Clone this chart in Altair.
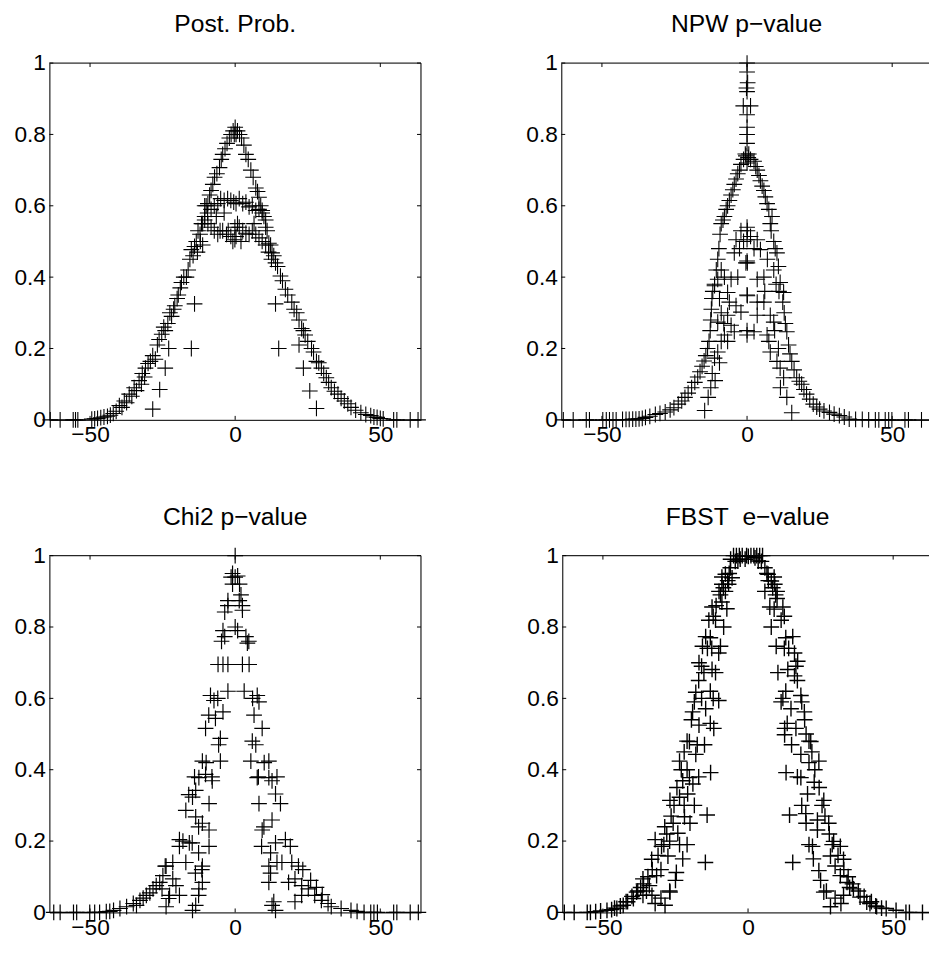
import altair as alt
import pandas as pd

FONT = "Liberation Sans"
TITLES = ["Post. Prob.", "NPW p\u2212value", "Chi2 p\u2212value", "FBST\u00a0 e\u2212value"]
X_TICKS = [-50, 0, 50]
Y_TICKS = [0, 0.2, 0.4, 0.6, 0.8, 1]

# ---------------- data (x, value) ----------------
POST_PROB = [
    (-63.7, 0), (-60.3, 0), (-55.8, 0), (-55, 0), (-54.2, 0), (-49.4, 0.002), (-48.4, 0.003), (-47.4, 0.004),
    (-46.3, 0.006), (-45.2, 0.008), (-44, 0.01), (-43, 0.013), (-42, 0.018), (-41, 0.024),
    (-39.9, 0.04), (-39, 0.035), (-38.2, 0.053), (-37.4, 0.048), (-36.5, 0.072), (-35.6, 0.066), (-34.8, 0.09),
    (-34, 0.082), (-33.1, 0.11), (-32.3, 0.1), (-32, 0.13), (-31.2, 0.12), (-30.9, 0.145), (-30, 0.158),
    (-29.2, 0.164), (-28.4, 0.18), (-27.5, 0.17), (-26.8, 0.21), (-26.2, 0.225), (-25.3, 0.24), (-24.6, 0.26),
    (-24.1, 0.25), (-23.2, 0.27), (-22.5, 0.3), (-21.9, 0.29), (-21.2, 0.31), (-20.8, 0.32), (-20, 0.34),
    (-19.6, 0.35), (-18.9, 0.37), (-18.5, 0.385), (-17.7, 0.4), (-16.8, 0.40), (-16.2, 0.42), (-15.6, 0.45),
    (-15.1, 0.477), (-14.5, 0.46), (-14, 0.486), (-13.4, 0.5), (-12.8, 0.53), (-12.1, 0.52), (-11.6, 0.55),
    (-10.5, 0.57), (-10, 0.6), (-9.4, 0.606), (-8.8, 0.63), (-8.3, 0.643), (-7.7, 0.66), (-7.1, 0.68),
    (-6.3, 0.69), (-5.4, 0.707), (-4.8, 0.73), (-4.3, 0.744), (-3.5, 0.76), (-2.8, 0.775), (-2, 0.79),
    (-1.4, 0.80), (-0.7, 0.81), (-0.3, 0.8), (0, 0.82),
    (-10.5, 0.6), (-9.5, 0.58), (-8.3, 0.59), (-7.2, 0.6), (-6, 0.606), (-5, 0.62), (-3.8, 0.615), (-2.6, 0.62),
    (-1.5, 0.615), (-0.5, 0.61), (-3.8, 0.58), (-6.5, 0.57), (-11.2, 0.55), (-10.5, 0.56), (-9.4, 0.55),
    (-8.3, 0.54), (-7.2, 0.53), (-6, 0.52), (-5.2, 0.53), (-4.3, 0.53), (-3, 0.52), (-2.4, 0.53), (-1.5, 0.514),
    (-0.8, 0.5), (-0.1, 0.54), (-0.1, 0.505), (-12, 0.5), (-13, 0.47), (-11.2, 0.49),
    (-14, 0.325), (-15.1, 0.2), (-22.9, 0.2), (-24.1, 0.145), (-26, 0.085), (-28.4, 0.03),
    (0.3, 0.8), (0.8, 0.81), (1.5, 0.80), (2.2, 0.79), (3, 0.77), (3.7, 0.744), (4.5, 0.73), (5.4, 0.70),
    (6.2, 0.68), (7.1, 0.65), (7.7, 0.64), (8.2, 0.624), (8.8, 0.60), (9.3, 0.587), (9.9, 0.57), (10.5, 0.54),
    (11, 0.53), (11.6, 0.495), (12.2, 0.49), (12.7, 0.468), (13.3, 0.46), (13.9, 0.44), (14.6, 0.43),
    (15.6, 0.403), (16.3, 0.39), (17.3, 0.366), (18.1, 0.35), (19.5, 0.33), (20.3, 0.31), (21.2, 0.30),
    (22, 0.28), (22.9, 0.256), (23.5, 0.25), (24.1, 0.238), (25, 0.22), (26.3, 0.20), (27, 0.19), (28, 0.164),
    (28.8, 0.16), (29.7, 0.145), (30.5, 0.13), (31.4, 0.118), (32.2, 0.105), (33.1, 0.09), (34.2, 0.08),
    (35.4, 0.072), (36.5, 0.06), (37.6, 0.053), (38.8, 0.045), (39.9, 0.035), (41.5, 0.027), (43.3, 0.02),
    (45, 0.015), (46.7, 0.012), (47.8, 0.008), (48.9, 0.007), (50, 0.004), (51, 0.003),
    (54.6, 0), (55.7, 0), (60.3, 0), (63, 0),
    (0.3, 0.606), (1.4, 0.62), (2.6, 0.606), (3.7, 0.61), (4.8, 0.597), (5.9, 0.6), (7.1, 0.587), (8.2, 0.59),
    (9.3, 0.58), (10.5, 0.56), (1.4, 0.54), (2.6, 0.53), (3.7, 0.523), (4.8, 0.52), (5.9, 0.53), (7.1, 0.52),
    (8.2, 0.51), (9.3, 0.5), (10.5, 0.49), (0.3, 0.514), (0.8, 0.55), (2, 0.5), (6.5, 0.55), (11.5, 0.47),
    (12.5, 0.45),
    (13.9, 0.325), (15, 0.2), (22, 0.21), (23.5, 0.145), (25.7, 0.081), (28, 0.032),
]

NPW = [
    (-63.3, 0), (-59.9, 0), (-55.4, 0), (-54.3, 0), (-49.7, 0), (-48.5, 0), (-47.4, 0), (-46.2, 0), (-45.1, 0),
    (-42.9, 0.001), (-41.7, 0.001), (-40.6, 0.001), (-39.4, 0.002), (-38.3, 0.002), (-37.2, 0.003), (-36.1, 0.004),
    (-35, 0.007), (-33.5, 0.01), (-31.6, 0.015), (-30, 0.018), (-28.2, 0.022), (-26.5, 0.028), (-25.2, 0.034),
    (-23.7, 0.044), (-22.5, 0.053), (-21.4, 0.063), (-20.3, 0.075), (-19.1, 0.09), (-18, 0.105), (-17, 0.12),
    (-16.2, 0.135), (-15.5, 0.15), (-14.8, 0.165), (-14.2, 0.18), (-13.6, 0.2), (-13.1, 0.22), (-12.7, 0.25),
    (-12.5, 0.28), (-12.3, 0.31), (-12.1, 0.34), (-11.8, 0.36), (-11.2, 0.38), (-10.6, 0.42), (-10.1, 0.45),
    (-9.7, 0.48), (-9.3, 0.52), (-8.9, 0.55), (-8.3, 0.56), (-7.8, 0.57), (-7.2, 0.59), (-6.7, 0.6),
    (-6.1, 0.615), (-5.5, 0.63), (-4.9, 0.645), (-4.4, 0.66), (-3.8, 0.675), (-3.2, 0.69), (-2.6, 0.70),
    (-2.1, 0.716), (-1.2, 0.73), (-0.4, 0.74),
    (-3.8, 0.505), (-2.1, 0.53), (-4.4, 0.468), (-0.4, 0.44), (-3.2, 0.40), (-5.5, 0.394), (-6.7, 0.357),
    (-3.8, 0.32), (-2.1, 0.302), (-6.7, 0.293), (-5.5, 0.265), (-4.4, 0.247), (-7.8, 0.238), (-8.9, 0.22),
    (-10.1, 0.19), (-6.7, 0.22), (-11.2, 0.173), (-8.9, 0.30), (-10.1, 0.274), (-7.8, 0.40), (-8.9, 0.42),
    (-10.1, 0.394), (-11.2, 0.376), (-12, 0.13), (-11, 0.11), (-12.5, 0.09), (-13.4, 0.063), (-14.6, 0.026),
    (-9.5, 0.16), (-8, 0.27), (-1.2, 0.5), (-2.6, 0.48), (-6.1, 0.33), (-9.5, 0.34),
    (0, 1.0), (0, 0.975), (0.2, 0.945), (-0.2, 0.93), (0, 0.92), (-1.3, 0.88), (1.2, 0.88), (0, 0.855),
    (0, 0.82), (0, 0.80), (0, 0.775), (-0.6, 0.745), (0.6, 0.745), (0, 0.72), (0, 0.54), (0, 0.505),
    (0, 0.445), (0, 0.35), (0, 0.25), (0, 0.238),
    (0.4, 0.735), (1.2, 0.73), (2.4, 0.725), (3, 0.71), (3.5, 0.70), (4.1, 0.685), (4.6, 0.67), (5.2, 0.655),
    (5.8, 0.643), (6.3, 0.625), (6.9, 0.606), (7.5, 0.59), (8.6, 0.57), (8, 0.55), (8.3, 0.53), (9.2, 0.5),
    (9.7, 0.48), (10.3, 0.468), (10.8, 0.43), (11.4, 0.385), (12.6, 0.357), (12.3, 0.33), (12.8, 0.3),
    (13.2, 0.27), (13.7, 0.247), (14.3, 0.21), (14.8, 0.185), (15.4, 0.164), (16.2, 0.14), (17.1, 0.118),
    (18, 0.108), (18.8, 0.1), (19.6, 0.085), (20.5, 0.072), (21.6, 0.058), (22.8, 0.044), (24, 0.036),
    (25, 0.03), (26.5, 0.025), (28.4, 0.021), (30, 0.016), (31.8, 0.012), (33.5, 0.008),
    (0.1, 0.53), (1.2, 0.514), (3.5, 0.505), (4.6, 0.477), (0.1, 0.44), (3.5, 0.394), (5.8, 0.40), (9.2, 0.42),
    (0.1, 0.348), (3.5, 0.33), (5.8, 0.33), (3.5, 0.293), (8, 0.293), (9.2, 0.274), (6.9, 0.238), (2.4, 0.247),
    (7.5, 0.22), (8, 0.19), (10.3, 0.164), (11.4, 0.145), (12.6, 0.118), (13.7, 0.063), (15.4, 0.02),
    (11, 0.36), (10, 0.38), (7, 0.45), (2.4, 0.48), (6.1, 0.36), (11.5, 0.09), (9.5, 0.25), (10.8, 0.2),
    (35.2, 0.002), (37.4, 0.001), (39.7, 0.001), (41.9, 0), (44.2, 0), (45.4, 0), (47.6, 0), (48.8, 0),
    (49.9, 0), (54.4, 0), (55.6, 0), (60.1, 0),
]

CHI2 = [
    (-62.5, 0), (-60.3, 0), (-55.7, 0), (-54.6, 0), (-50.1, 0), (-48.4, 0), (-46.7, 0), (-44.4, 0.002),
    (-43.2, 0.003), (-41.9, 0.006), (-39.7, 0.011), (-37.4, 0.016), (-35.1, 0.025), (-34, 0.02), (-32.8, 0.034),
    (-31.7, 0.04), (-30.6, 0.048), (-29.4, 0.055), (-28.3, 0.066), (-27.2, 0.075), (-26, 0.084), (-24.9, 0.103),
    (-23.8, 0.13), (-22.6, 0.048), (-23.8, 0.016), (-21.5, 0.094), (-20.4, 0.075), (-19.2, 0.048), (-21.5, 0.14),
    (-19.2, 0.204), (-19.2, 0.185), (-17, 0.14), (-17, 0.286), (-15.8, 0.195), (-14.7, 0.323), (-13.6, 0.342),
    (-13.6, 0.268), (-12.5, 0.378), (-11.3, 0.424), (-11.3, 0.25), (-11.3, 0.13), (-11.3, 0.084), (-12.5, 0.066),
    (-13.6, 0.02), (-14.7, 0.006), (-10.2, 0.387), (-10.2, 0.516), (-9, 0.305), (-9, 0.231), (-9, 0.185),
    (-7.9, 0.369), (-9.1, 0.553), (-8.5, 0.608), (-7.3, 0.594), (-6.8, 0.544), (-5.7, 0.47), (-5.1, 0.488),
    (-5.1, 0.424), (-4.2, 0.562), (-5.9, 0.695), (-4.2, 0.695), (-2.5, 0.62), (-4.2, 0.79), (-3.6, 0.773),
    (-3.6, 0.842), (-2.5, 0.874), (-1.4, 0.94), (-0.9, 0.95), (-18, 0.2), (-16, 0.33), (-14, 0.38), (-12.6, 0.24),
    (-12.6, 0.167), (-14.8, 0.195), (-24.1, 0.13), (-25.2, 0.066), (-22.9, 0.039), (-12.6, 0.048), (-13.7, 0.11),
    (-11.5, 0.12), (-10, 0.42), (-8, 0.38), (-6, 0.6), (-2.5, 0.695), (-4.7, 0.76), (-2.5, 0.86), (-0.9, 0.92),
    (0, 1.0), (0, 0.80), (0, 0.94),
    (0.85, 0.943), (1.4, 0.874), (2.5, 0.847), (0.85, 0.79), (3.7, 0.773), (4.2, 0.755), (2.5, 0.695),
    (4.8, 0.695), (3.1, 0.62), (7.6, 0.608), (8.2, 0.59), (6.5, 0.553), (9.3, 0.516), (5.9, 0.48), (7.1, 0.47),
    (5.4, 0.424), (11.6, 0.424), (7.6, 0.378), (11.6, 0.378), (12.7, 0.369), (13.9, 0.332), (15.6, 0.305),
    (8.2, 0.305), (12.7, 0.259), (9.9, 0.24), (9.3, 0.231), (13.9, 0.195), (17.3, 0.204), (19, 0.185),
    (11.6, 0.13), (16.1, 0.14), (19.5, 0.14), (21.8, 0.13), (11.6, 0.084), (12.7, 0.02), (13.9, 0.006),
    (18.4, 0.084), (20.6, 0.094), (22.9, 0.075), (25.2, 0.066), (27.4, 0.048), (29.7, 0.034), (32, 0.025),
    (22.9, 0.048), (20.6, 0.03), (33.1, 0.016), (36.5, 0.011), (39.9, 0.006), (42, 0.003), (44.4, 0),
    (46.7, 0), (47.8, 0), (49, 0), (54.6, 0), (55.7, 0), (60.3, 0), (63.1, 0), (1.5, 0.92), (2, 0.89),
    (6, 0.6), (12.2, 0.167), (14.4, 0.38), (12.2, 0.11), (14.4, 0.14), (23.3, 0.12), (13.3, 0.03), (9.1, 0.185),
    (10, 0.42), (8, 0.38), (26, 0.09), (28, 0.07), (30, 0.05), (4.7, 0.76), (2.5, 0.86),
]

FBST = [
    (-63.3, 0), (-59.9, 0), (-55.4, 0), (-54.3, 0), (-52.5, 0.002), (-50.8, 0.004), (-48.6, 0.006),
    (-47, 0.008), (-45.2, 0.011), (-43, 0.02), (-41.5, 0.03), (-39.5, 0.039), (-38.4, 0.057), (-36.2, 0.048),
    (-36.2, 0.094), (-34, 0.075), (-33.1, 0.048), (-31.5, 0.103), (-33.2, 0.149), (-32, 0.204), (-29.8, 0.185),
    (-28.7, 0.24), (-27.6, 0.158), (-26.9, 0.057), (-28.6, 0.02), (-26.9, 0.314), (-25.8, 0.25), (-24.7, 0.112),
    (-24.2, 0.222), (-23.6, 0.19), (-23.6, 0.323), (-23.6, 0.424), (-22.5, 0.369), (-21.9, 0.268),
    (-20.8, 0.332), (-20.2, 0.378), (-20.2, 0.479), (-19.1, 0.562), (-18, 0.617), (-18, 0.443), (-17.5, 0.47),
    (-16.9, 0.525), (-16.9, 0.70), (-15.7, 0.746), (-15.2, 0.672), (-14.6, 0.773), (-14.6, 0.571),
    (-14.1, 0.273), (-14.7, 0.14), (-13.5, 0.819), (-12.9, 0.392), (-12.4, 0.856), (-12.4, 0.681),
    (-11.8, 0.516), (-11.2, 0.819), (-11.2, 0.672), (-10.1, 0.727), (-10.1, 0.594), (-9.5, 0.746), (-9, 0.92),
    (-8.4, 0.80), (-7.8, 0.948), (-7.8, 0.90), (-7.3, 0.851), (-6.7, 0.92), (-6.1, 0.966), (-5.5, 0.938),
    (-4.4, 0.984), (-2.7, 0.99), (-1, 0.99), (-30, 0.12), (-35, 0.06), (-37, 0.07), (-27, 0.2), (-22, 0.3),
    (-19, 0.36), (-21, 0.4), (-16, 0.6), (-13, 0.62), (-11, 0.86), (-9, 0.87), (-5, 1), (-4, 1), (-3, 1),
    (-2, 1), (-0.5, 1), (-6, 0.99),
    (-7, 0.93), (-8.5, 0.91), (-10, 0.9), (-9.5, 0.89), (-12, 0.83), (-13, 0.77), (-14, 0.74), (-16, 0.69),
    (-17, 0.65), (-18.5, 0.59), (-19.5, 0.54), (-21, 0.48), (-22, 0.45), (-23, 0.40), (-24.5, 0.35),
    (-25.5, 0.3), (-26.5, 0.27), (-28, 0.22), (-29, 0.19), (-31, 0.16), (-33, 0.12), (-34.5, 0.1), (-36, 0.08),
    (-38, 0.06), (-40, 0.045), (-42, 0.03), (-44, 0.018), (-46, 0.012), (-12.5, 0.74), (-12, 0.6),
    (-13, 0.53), (-15, 0.47), (-17, 0.38), (-18.5, 0.3), (-20, 0.25), (-21, 0.19), (-22.5, 0.15), (-25, 0.09),
    (-27, 0.06), (-30, 0.04), (-32, 0.025), (-3.5, 0.985), (-6.5, 0.95), (-9, 0.94),
    (0.1, 0.998), (1, 1), (2, 1), (2.4, 0.994), (3, 1), (4, 1), (4.6, 0.984), (5, 1), (5.8, 0.966),
    (6.9, 0.948), (8, 0.929), (9.2, 0.92), (5.8, 0.90), (7.5, 0.856), (12, 0.856), (11.4, 0.819), (8, 0.80),
    (15.4, 0.773), (9.7, 0.746), (16, 0.727), (17.1, 0.704), (10.3, 0.672), (13.7, 0.681), (16, 0.663),
    (11.4, 0.59), (18.2, 0.608), (14.8, 0.571), (19.4, 0.562), (12.6, 0.516), (16.5, 0.516), (12.6, 0.498),
    (21.6, 0.479), (18.2, 0.443), (24.4, 0.424), (13.1, 0.392), (18.2, 0.378), (22.8, 0.365), (20.5, 0.332),
    (26.1, 0.314), (14.3, 0.273), (19.9, 0.277), (23.9, 0.259), (27.8, 0.25), (23.9, 0.231), (29.5, 0.199),
    (22.2, 0.185), (31.8, 0.185), (28.4, 0.158), (32.9, 0.149), (15.4, 0.14), (24.4, 0.117), (31.8, 0.103),
    (34.1, 0.084), (36.3, 0.066), (26.1, 0.057), (32.9, 0.048), (38.6, 0.043), (40.9, 0.029), (28.4, 0.016),
    (44.3, 0.016), (47.6, 0.011), (51, 0.006), (54.4, 0), (55.6, 0), (60.1, 0), (10, 0.88), (13, 0.62),
    (21, 0.42), (30, 0.13), (35, 0.07), (42, 0.025), (9, 0.85), (20, 0.5),
    (7, 0.93), (8.5, 0.91), (10, 0.9), (9.5, 0.89), (12.5, 0.83), (13, 0.77), (14, 0.74), (16.5, 0.69),
    (17, 0.65), (18.5, 0.59), (19.5, 0.54), (21, 0.48), (22, 0.45), (23, 0.40), (24.5, 0.35), (25.5, 0.3),
    (26.5, 0.27), (28, 0.22), (29, 0.19), (31, 0.16), (33, 0.12), (34.5, 0.1), (36, 0.08), (38, 0.06),
    (40, 0.045), (42.5, 0.03), (44, 0.018), (46, 0.012), (12.5, 0.74), (12, 0.6), (13.5, 0.53), (15, 0.47),
    (17, 0.38), (18.5, 0.3), (20, 0.25), (21, 0.19), (22.5, 0.15), (25, 0.09), (27, 0.06), (30, 0.04),
    (32, 0.025), (3.5, 0.985), (6.5, 0.95), (9, 0.94),
]

# ---------------- layout ----------------
W_LEFT, W_RIGHT, H = 377, 376, 362
PLUS = "M-1,0H1M0,-1V1"
TICK = 4
INK = "black"


def panel(points, title, width, xmax, right_border, stroke_w):
    xs = alt.Scale(domain=[-64, xmax], nice=False, zero=False)
    ys = alt.Scale(domain=[0, 1], nice=False, zero=False)
    xax = alt.Axis(values=X_TICKS, title=None, grid=False, ticks=False, domain=True,
                   domainColor=INK, domainWidth=1, labelFont=FONT, labelFontSize=23,
                   labelColor=INK, labelPadding=4, labelFlush=False, labelOverlap=False)
    yax = alt.Axis(values=Y_TICKS, title=None, grid=False, ticks=False, domain=True, format="~g",
                   domainColor=INK, domainWidth=1, labelFont=FONT, labelFontSize=23,
                   labelColor=INK, labelPadding=4, labelFlush=False, labelOverlap=False)
    ex = alt.X("x:Q", scale=xs, axis=xax)
    ey = alt.Y("y:Q", scale=ys, axis=yax)

    df = pd.DataFrame(points, columns=["x", "y"])
    xt = pd.DataFrame({"x": X_TICKS})
    yt = pd.DataFrame({"y": Y_TICKS})
    one = pd.DataFrame({"y": [1]})

    rule = dict(color=INK, strokeWidth=1)
    layers = [
        alt.Chart(xt).mark_rule(**rule).encode(x=ex, y=alt.value(H), y2=alt.value(H - TICK)),
        alt.Chart(xt).mark_rule(**rule).encode(x=ex, y=alt.value(0), y2=alt.value(TICK)),
        alt.Chart(yt).mark_rule(**rule).encode(y=ey, x=alt.value(0), x2=alt.value(TICK)),
        alt.Chart(one).mark_rule(**rule).encode(y=ey, x=alt.value(0), x2=alt.value(width)),
    ]
    if right_border:
        layers.append(alt.Chart(yt).mark_rule(**rule).encode(y=ey, x=alt.value(width - TICK), x2=alt.value(width)))
        layers.append(alt.Chart(one).mark_rule(**rule).encode(x=alt.value(width), y=alt.value(0), y2=alt.value(H)))
    layers.append(
        alt.Chart(df).mark_point(shape=PLUS, size=256, filled=False, color=INK, strokeWidth=stroke_w, opacity=1)
        .encode(x=ex, y=ey)
    )
    return alt.layer(*layers).properties(
        width=width, height=H,
        title=alt.TitleParams(title, font=FONT, fontSize=25, fontWeight="normal", color=INK,
                              anchor="middle", offset=15.4),
    )


p1 = panel(POST_PROB, TITLES[0], W_LEFT, 64, True, 1.1)
p2 = panel(NPW, TITLES[1], W_RIGHT, 63.67, False, 1.1)
p3 = panel(CHI2, TITLES[2], W_LEFT, 64, True, 1.2)
p4 = panel(FBST, TITLES[3], W_RIGHT, 63.67, False, 1.4)

chart = alt.vconcat(
    alt.hconcat(p1, p2, spacing=97.4),
    alt.hconcat(p3, p4, spacing=97.4),
    spacing=57.8,
).configure_view(strokeWidth=0).properties(
    padding={"left": 5, "top": -3, "right": -5.5, "bottom": 0}
).configure(background="white")

chart.save("out.html", embed_options={"renderer": "svg", "actions": False})
